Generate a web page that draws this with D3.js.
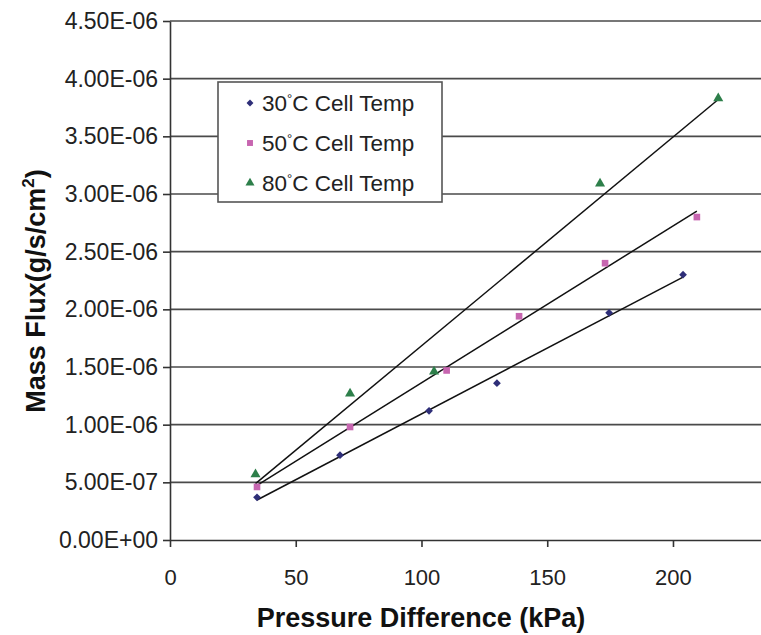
<!DOCTYPE html>
<html>
<head>
<meta charset="utf-8">
<script src="https://cdn.jsdelivr.net/npm/d3@7"></script>
<style>
  html, body { margin: 0; padding: 0; background: #fff; }
  svg { display: block; font-family: "Liberation Sans", Arial, sans-serif; }
</style>
</head>
<body>
<svg id="chart" width="761" height="635"></svg>
<script>
// ---- data ----
const seriesNames = ["30", "50", "80"];
const x30 = [34.6, 67.6, 103, 130, 174.6, 204];
const y30 = [3.7e-7, 7.35e-7, 1.12e-6, 1.36e-6, 1.97e-6, 2.30e-6];
const x50 = [34.6, 71.6, 110, 138.8, 173, 209.5];
const y50 = [4.6e-7, 9.8e-7, 1.47e-6, 1.94e-6, 2.40e-6, 2.80e-6];
const x80 = [34, 71.6, 105, 171, 218];
const y80 = [5.7e-7, 1.27e-6, 1.46e-6, 3.09e-6, 3.83e-6];
const xTicks = [0, 50, 100, 150, 200];
const yTicks = [0, 5e-7, 1e-6, 1.5e-6, 2e-6, 2.5e-6, 3e-6, 3.5e-6, 4e-6, 4.5e-6];
const yTickLabels = ["0.00E+00", "5.00E-07", "1.00E-06", "1.50E-06", "2.00E-06",
                     "2.50E-06", "3.00E-06", "3.50E-06", "4.00E-06", "4.50E-06"];
const xTitle = "Pressure Difference (kPa)";
const yTitle = "Mass Flux(g/s/cm";

const series = [
  { name: seriesNames[0], xs: x30, ys: y30, color: "#2e2e78", shape: d3.symbolSquare, rot: 45, size: 30 },
  { name: seriesNames[1], xs: x50, ys: y50, color: "#c765b0", shape: d3.symbolSquare, rot: 0, size: 44 },
  { name: seriesNames[2], xs: x80, ys: y80, color: "#2d7f4a", shape: d3.symbolTriangle, rot: 0, size: 44 }
];

// ---- layout ----
const svg = d3.select("#chart");
const mLeft = 170, mRight = 761, mTop = 21, mBottom = 540;
const x = d3.scaleLinear().domain([0, 235]).range([mLeft, mRight]);
const y = d3.scaleLinear().domain([0, 4.5e-6]).range([mBottom, mTop]);

// gridlines
svg.append("g").selectAll("line").data(yTicks.slice(1)).join("line")
  .attr("x1", mLeft).attr("x2", mRight)
  .attr("y1", d => y(d)).attr("y2", d => y(d))
  .attr("stroke", "#4a4a4a").attr("stroke-width", 1.6);

// y axis
const yAxis = d3.axisLeft(y).tickValues(yTicks).tickSize(7).tickSizeOuter(0)
  .tickFormat((d, i) => yTickLabels[i]);
const gy = svg.append("g").attr("transform", `translate(${mLeft},0)`).call(yAxis);
gy.select(".domain").attr("stroke", "#333").attr("stroke-width", 1.6);
gy.selectAll(".tick line").attr("stroke", "#333").attr("stroke-width", 1.6);
gy.selectAll(".tick text").attr("font-size", 23).attr("fill", "#222")
  .attr("x", -12).attr("font-family", "Liberation Sans, Arial, sans-serif");

// x axis
const xAxis = d3.axisBottom(x).tickValues(xTicks).tickSize(7).tickSizeOuter(0)
  .tickFormat(d3.format("d"));
const gx = svg.append("g").attr("transform", `translate(0,${mBottom})`).call(xAxis);
gx.select(".domain").attr("stroke", "#333").attr("stroke-width", 1.6);
gx.selectAll(".tick line").attr("stroke", "#333").attr("stroke-width", 1.6);
gx.selectAll(".tick text").attr("font-size", 22).attr("fill", "#222")
  .attr("font-family", "Liberation Sans, Arial, sans-serif")
  .attr("dy", null).attr("y", 45);

// trendlines (least-squares linear fit over each series' x range)
function fit(xs, ys) {
  const mx = d3.mean(xs), my = d3.mean(ys);
  let sxy = 0, sxx = 0;
  xs.forEach((v, i) => { sxy += (v - mx) * (ys[i] - my); sxx += (v - mx) * (v - mx); });
  const b = sxy / sxx, a = my - b * mx;
  const x0 = d3.min(xs), x1 = d3.max(xs);
  return [[x0, a + b * x0], [x1, a + b * x1]];
}
const line = d3.line().x(d => x(d[0])).y(d => y(d[1]));
series.forEach(s => {
  svg.append("path").attr("d", line(fit(s.xs, s.ys)))
    .attr("fill", "none").attr("stroke", "#111").attr("stroke-width", 1.5);
});

// markers
series.forEach(s => {
  svg.append("g").selectAll("path").data(s.xs.map((v, i) => [v, s.ys[i]])).join("path")
    .attr("transform", d => `translate(${x(d[0])},${y(d[1])}) rotate(${s.rot})`)
    .attr("d", d3.symbol().type(s.shape).size(s.size))
    .attr("fill", s.color);
});

// legend
const lg = svg.append("g");
lg.append("rect").attr("x", 218).attr("y", 82).attr("width", 224).attr("height", 120)
  .attr("fill", "#fff").attr("stroke", "#555").attr("stroke-width", 1.6);
series.forEach((s, i) => {
  const cy = 103 + i * 40;
  lg.append("path").attr("transform", `translate(250,${cy}) rotate(${s.rot})`)
    .attr("d", d3.symbol().type(s.shape).size(s.size * 0.8)).attr("fill", s.color);
  const t = lg.append("text").attr("x", 262).attr("y", cy + 8)
    .attr("font-size", 22.5).attr("fill", "#222");
  t.append("tspan").text(s.name);
  t.append("tspan").attr("font-size", 13).attr("dy", -8).text("°");
  t.append("tspan").attr("dy", 8).text("C Cell Temp");
});

// axis titles
svg.append("text").attr("x", 421).attr("y", 627).attr("text-anchor", "middle")
  .attr("font-size", 27).attr("font-weight", "bold").attr("fill", "#111")
  .text(xTitle);
const yt = svg.append("text").attr("transform", "translate(45,291) rotate(-90)")
  .attr("text-anchor", "middle").attr("font-size", 27).attr("font-weight", "bold").attr("fill", "#111");
yt.append("tspan").text(yTitle);
yt.append("tspan").attr("font-size", 17).attr("dy", -11).text("2");
yt.append("tspan").attr("dy", 11).text(")");
</script>
</body>
</html>
